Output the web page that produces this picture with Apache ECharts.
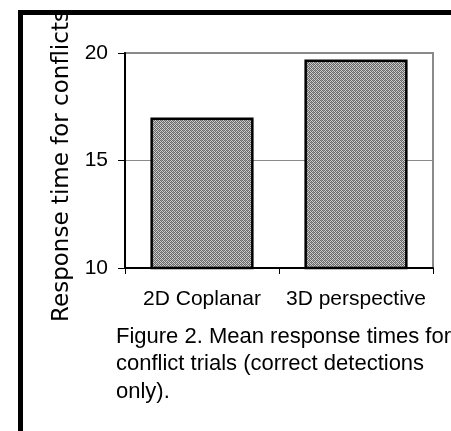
<!DOCTYPE html>
<html><head><meta charset="utf-8">
<style>html,body{margin:0;padding:0;background:#fff}#c{width:451px;height:431px}</style>
<script src="https://cdn.jsdelivr.net/npm/echarts@6/dist/echarts.min.js"></script>
</head><body><div id="c"></div>
<script>
const categories = ['2D Coplanar', '3D perspective'];
const meanResponse = [17.0, 19.7];
const yTicks = [10, 15, 20];
const yAxisTitle = 'Response time for conflicts';
const captionLines = ['Figure 2. Mean response times for', 'conflict trials (correct detections', 'only).'];

const pat = document.createElement('canvas');
pat.width = 4; pat.height = 4;
const pc = pat.getContext('2d');
pc.fillStyle = '#d0d0d0'; pc.fillRect(0,0,4,4);
pc.fillStyle = '#686868';
pc.fillRect(0,0,1,1); pc.fillRect(2,0,1,1); pc.fillRect(1,1,1,1); pc.fillRect(3,1,1,1);
pc.fillRect(0,2,1,1); pc.fillRect(2,2,1,1); pc.fillRect(1,3,1,1); pc.fillRect(3,3,1,1);
pc.fillStyle = '#9a9a9a';
pc.fillRect(1,0,1,1); pc.fillRect(3,2,1,1);

const chart = echarts.init(document.getElementById('c'), null, {renderer:'canvas'});
chart.setOption({
  animation: false,
  backgroundColor: '#fff',
  grid: {left:125, right:18, top:53, bottom:163, show:true, borderColor:'#8a8a8a', borderWidth:2, backgroundColor:'transparent'},
  xAxis: {
    type:'category', data: categories,
    axisLine:{lineStyle:{color:'#000', width:2}},
    axisTick:{show:true, alignWithLabel:false, length:6, inside:false, lineStyle:{color:'#000'}},
    axisLabel:{color:'#000', fontFamily:'Liberation Sans, Arial', fontSize:21, margin:21, interval:0, hideOverlap:false}
  },
  yAxis: {
    type:'value', min: yTicks[0], max: yTicks[yTicks.length-1], interval: 5,
    axisLine:{show:true, lineStyle:{color:'#000', width:2}},
    axisTick:{show:true, length:7, lineStyle:{color:'#000'}},
    axisLabel:{color:'#000', fontFamily:'Liberation Sans, Arial', fontSize:21, margin:17},
    splitLine:{show:true, lineStyle:{color:'#8a8a8a', width:1}}
  },
  series: [{
    type:'bar', data: meanResponse, barWidth:'67%',
    itemStyle:{color:{image:pat, repeat:'repeat'}, borderColor:'#000', borderWidth:2.5}
  }],
  graphic: [
    {type:'text', x:62, y:166, rotation:Math.PI/2, z:1,
      style:{text:yAxisTitle, fill:'#000', font:'23px "DejaVu Sans"', textAlign:'center', textVerticalAlign:'middle'}},
    {type:'text', left:116, top:323, z:1,
      style:{text:captionLines.join('\n'), fill:'#000', font:'22px "Liberation Sans"', lineHeight:27.5}},
    {type:'rect', shape:{x:18, y:10, width:433, height:5}, style:{fill:'#000'}, z:10},
    {type:'rect', shape:{x:18, y:10, width:5, height:421}, style:{fill:'#000'}, z:10},
    {type:'rect', shape:{x:0, y:0, width:451, height:10}, style:{fill:'#fff'}, z:9},
    {type:'rect', shape:{x:0, y:0, width:18, height:431}, style:{fill:'#fff'}, z:9}
  ]
});
</script></body></html>
